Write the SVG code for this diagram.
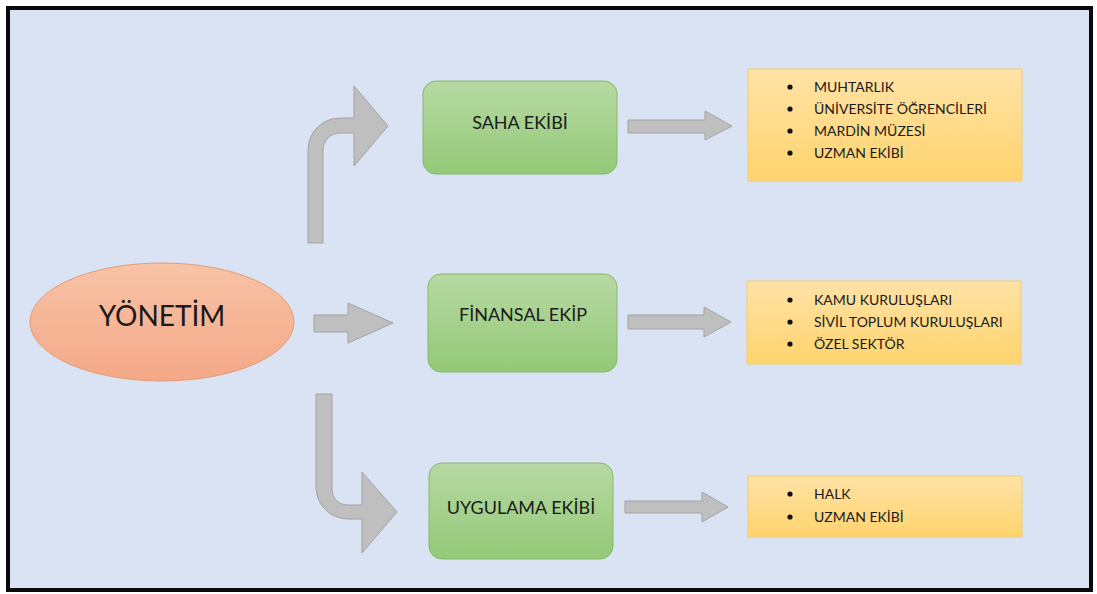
<svg xmlns="http://www.w3.org/2000/svg" width="1097" height="594" viewBox="0 0 1097 594">
<defs>
<linearGradient id="gGreen" x1="0" y1="0" x2="0" y2="1"><stop offset="0" stop-color="#B7D9A3"/><stop offset="1" stop-color="#93C977"/></linearGradient>
<linearGradient id="gYellow" x1="0" y1="0" x2="0" y2="1"><stop offset="0" stop-color="#FFE2A6"/><stop offset="1" stop-color="#FFD46E"/></linearGradient>
<linearGradient id="gOrange" x1="0" y1="0" x2="0" y2="1"><stop offset="0" stop-color="#F8C3A6"/><stop offset="1" stop-color="#F4A887"/></linearGradient>
<style>
.green{fill:url(#gGreen);stroke:#86B86A;stroke-width:1}
.yellow{fill:url(#gYellow);stroke:#F2CD73;stroke-width:1}
.arrow{fill:#BFBFBF;stroke:#A3A3A3;stroke-width:1;stroke-linejoin:miter}
.t{font-family:Lato,"Noto Sans","DejaVu Sans",sans-serif;fill:#1A1A1A}
.box{font-size:18px;text-anchor:middle}
.li{font-size:14px}
.dot{fill:#111}
</style>
</defs>
<rect x="8" y="8" width="1083" height="582" fill="#DAE3F3" stroke="#0A0A0A" stroke-width="4"/>

<g id="connectors">
<path class="arrow" d="M308,243 L308,150 A32,32 0 0 1 340,118 L354,118 L354,86 L388,126 L354,166 L354,133 L340,133 A17,17 0 0 0 323,150 L323,243 Z"/>
<path class="arrow" d="M314,315 L348,315 L348,303 L393,323 L348,343 L348,332 L314,332 Z"/>
<path class="arrow" d="M316,394 L332,394 L332,490 A15,15 0 0 0 347,505 L362,505 L362,472 L397,512 L362,553 L362,519 L348,519 A32,32 0 0 1 316,487 Z"/>
<path class="arrow" d="M628,120 L705,120 L705,111 L732,126 L705,140 L705,133 L628,133 Z"/>
<path class="arrow" d="M628,315 L704,315 L704,307 L731,322 L704,337 L704,329 L628,329 Z"/>
<path class="arrow" d="M625,501 L702,501 L702,492 L728,507 L702,522 L702,513 L625,513 Z"/>
</g>

<g id="yonetim">
<ellipse cx="162" cy="322" rx="132" ry="59" fill="url(#gOrange)" stroke="#E59A73" stroke-width="1"/>
<text class="t" x="162" y="326" font-size="28" text-anchor="middle">YÖNETİM</text>
</g>

<g id="saha">
<rect class="green" x="423" y="81" width="194" height="93" rx="13"/>
<text class="t box" x="520" y="129">SAHA EKİBİ</text>
</g>

<g id="finansal">
<rect class="green" x="428" y="274" width="189" height="98" rx="13"/>
<text class="t box" x="523" y="321">FİNANSAL EKİP</text>
</g>

<g id="uygulama">
<rect class="green" x="429" y="463" width="184" height="96" rx="13"/>
<text class="t box" x="521" y="514">UYGULAMA EKİBİ</text>
</g>

<g id="list1">
<rect class="yellow" x="748" y="69" width="274" height="112"/>
<circle class="dot" cx="790" cy="87" r="2.6"/>
<circle class="dot" cx="790" cy="109" r="2.6"/>
<circle class="dot" cx="790" cy="131" r="2.6"/>
<circle class="dot" cx="790" cy="153" r="2.6"/>
<text class="t li" x="814" y="92">MUHTARLIK</text>
<text class="t li" x="814" y="114">ÜNİVERSİTE ÖĞRENCİLERİ</text>
<text class="t li" x="814" y="136">MARDİN MÜZESİ</text>
<text class="t li" x="814" y="158">UZMAN EKİBİ</text>
</g>

<g id="list2">
<rect class="yellow" x="747" y="281" width="274" height="83"/>
<circle class="dot" cx="790" cy="300" r="2.6"/>
<circle class="dot" cx="790" cy="322" r="2.6"/>
<circle class="dot" cx="790" cy="344" r="2.6"/>
<text class="t li" x="814" y="305">KAMU KURULUŞLARI</text>
<text class="t li" x="814" y="327">SİVİL TOPLUM KURULUŞLARI</text>
<text class="t li" x="814" y="349">ÖZEL SEKTÖR</text>
</g>

<g id="list3">
<rect class="yellow" x="748" y="476" width="274" height="61"/>
<circle class="dot" cx="790" cy="494" r="2.6"/>
<circle class="dot" cx="790" cy="517" r="2.6"/>
<text class="t li" x="814" y="499">HALK</text>
<text class="t li" x="814" y="522">UZMAN EKİBİ</text>
</g>
</svg>
